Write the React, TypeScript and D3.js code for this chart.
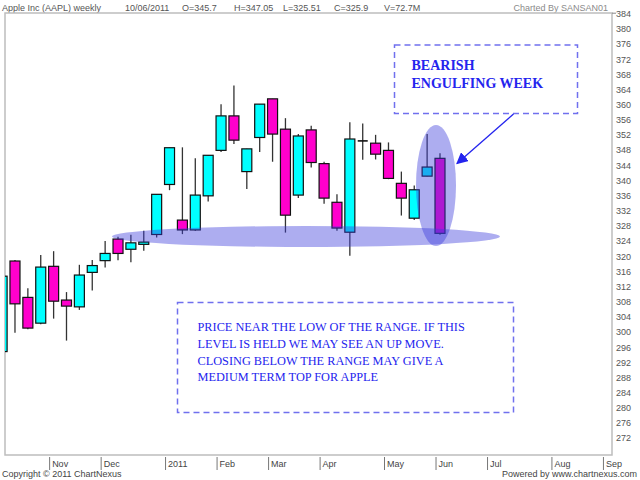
import React from "react";
import * as d3 from "d3";

// weekly bars, Friday dated, 15 Oct 2010 .. 10 Jun 2011
const weeks = [
  "2010-10-15", "2010-10-22", "2010-10-29", "2010-11-05", "2010-11-12", "2010-11-19", "2010-11-26",
  "2010-12-03", "2010-12-10", "2010-12-17", "2010-12-23", "2010-12-31", "2011-01-07", "2011-01-14",
  "2011-01-21", "2011-01-28", "2011-02-04", "2011-02-11", "2011-02-18", "2011-02-25", "2011-03-04",
  "2011-03-11", "2011-03-18", "2011-03-25", "2011-04-01", "2011-04-08", "2011-04-15", "2011-04-21",
  "2011-04-29", "2011-05-06", "2011-05-13", "2011-05-20", "2011-05-27", "2011-06-03", "2011-06-10",
];
const opens = [294.7, 318.6, 309.0, 302.2, 317.2, 308.3, 306.5, 315.6, 318.7, 324.4, 321.7, 323.0, 325.6, 338.8, 329.4, 326.8, 335.8, 347.8, 356.9, 342.2, 351.2, 361.4, 353.4, 336.0, 353.2, 344.3, 334.1, 326.2, 350.3, 349.7, 347.8, 339.1, 329.9, 341.0, 345.7];
const highs = [315.2, 318.9, 311.4, 320.2, 321.2, 310.4, 317.6, 318.9, 323.9, 325.0, 325.5, 326.6, 336.2, 348.5, 348.6, 345.7, 346.5, 360.0, 364.9, 348.2, 360.0, 361.4, 356.3, 352.1, 354.3, 344.8, 336.2, 355.2, 354.9, 351.9, 349.9, 342.2, 338.5, 352.1, 347.05];
const lows = [294.2, 299.7, 300.6, 301.9, 303.4, 297.6, 305.7, 310.8, 316.9, 318.8, 318.3, 321.3, 324.8, 337.3, 325.7, 326.6, 334.3, 347.4, 349.5, 337.6, 347.4, 344.8, 326.1, 335.2, 343.3, 333.7, 326.6, 320.0, 345.3, 345.4, 340.2, 330.6, 329.4, 341.0, 325.51];
const closes = [314.6, 307.3, 300.9, 317.0, 308.0, 306.7, 314.9, 317.4, 320.6, 320.6, 323.4, 323.6, 336.2, 348.5, 326.8, 336.0, 346.5, 356.9, 350.5, 348.2, 360.0, 352.1, 330.7, 351.6, 344.6, 335.2, 327.3, 350.8, 350.3, 346.8, 340.4, 335.2, 337.4, 343.4, 325.9];

// month labels and the bar index of the first week of each month
const monthLabels = ["Nov", "Dec", "2011", "Feb", "Mar", "Apr", "May", "Jun", "Jul", "Aug", "Sep"];
const monthFirstBar = [3, 7, 12, 16, 20, 24, 29, 33, 37, 42, 46];

const priceTicks = d3.range(272, 385, 4);

const headerItems = ["Apple Inc (AAPL) weekly", "10/06/2011", "O=345.7", "H=347.05", "L=325.51", "C=325.9", "V=72.7M"];
const headerX = [2, 125, 182, 234, 283, 334, 384];

const noteTop = ["BEARISH", "ENGULFING WEEK"];
const noteBottom = [
  "PRICE NEAR THE LOW OF THE RANGE. IF THIS",
  "LEVEL IS HELD WE MAY SEE AN UP MOVE.",
  "CLOSING BELOW THE RANGE MAY GIVE A",
  "MEDIUM TERM TOP FOR APPLE",
];

const W = 640, H = 480;
const plot = { left: 5, top: 13, right: 612, bottom: 455 };
const sans = "'Liberation Sans', Arial, sans-serif";
const serif = "'Liberation Serif', 'Times New Roman', serif";
const noteBlue = "#2424ee";
const overlay = "#3c3cdc";

export default function App() {
  const x = d3.scaleLinear().domain([0, weeks.length - 1]).range([2.1, 440]);
  const y = d3.scaleLinear().domain([272, 384]).range([437.6, 13.2]);
  const bodyW = 10;

  const bars = weeks.map((d, i) => ({ d, o: opens[i], h: highs[i], l: lows[i], c: closes[i] }));

  return (
    <svg width={W} height={H} style={{ position: "absolute", left: 0, top: 0, background: "#fff" }}>
      <defs>
        <clipPath id="plotClip">
          <rect x={plot.left} y={plot.top} width={plot.right - plot.left} height={plot.bottom - plot.top} />
        </clipPath>
        <marker id="arrowHead" viewBox="0 0 10 10" refX="9" refY="5" markerWidth="9" markerHeight="9" orient="auto">
          <path d="M0,0 L10,5 L0,10 z" fill={noteBlue} />
        </marker>
      </defs>

      {/* header */}
      <g fontFamily={sans} fontSize={9} fill="#555">
        {headerItems.map((t, i) => (
          <text key={t} x={headerX[i]} y={11}>{t}</text>
        ))}
        <text x={608} y={11} textAnchor="end" fill="#8a8a8a">Charted By SANSAN01</text>
      </g>

      {/* frame */}
      <rect x={plot.left} y={plot.top} width={plot.right - plot.left} height={plot.bottom - plot.top}
        fill="none" stroke="#bdbdbd" strokeWidth={1.5} />

      {/* price axis */}
      <g fontFamily={sans} fontSize={9} fill="#555">
        {priceTicks.map(v => (
          <text key={v} x={616} y={y(v) + 1.5} dominantBaseline="middle">{v}</text>
        ))}
        <line x1={plot.right} x2={616} y1={y(384)} y2={y(384)} stroke="#888" />
      </g>

      {/* date axis */}
      <g fontFamily={sans} fontSize={9} fill="#444">
        {monthLabels.map((m, i) => {
          const tx = x(monthFirstBar[i]) + 8.9;
          return (
            <g key={m}>
              <line x1={tx} x2={tx} y1={457} y2={470} stroke="#777" />
              <text x={tx + 2.5} y={467}>{m}</text>
            </g>
          );
        })}
      </g>

      {/* candles */}
      <g clipPath="url(#plotClip)">
        {bars.map((b, i) => {
          const cx = x(i);
          const top = y(Math.max(b.o, b.c));
          const bot = y(Math.min(b.o, b.c));
          const up = b.c >= b.o;
          return (
            <g key={b.d}>
              <line x1={cx} x2={cx} y1={y(b.h)} y2={y(b.l)} stroke="#333" strokeWidth={1.3} />
              {bot - top < 1 ? (
                <line x1={cx - bodyW / 2} x2={cx + bodyW / 2} y1={top} y2={top} stroke="#111" strokeWidth={1.6} />
              ) : (
                <rect x={cx - bodyW / 2} y={top} width={bodyW} height={bot - top}
                  fill={up ? "#00ffff" : "#ff00cc"} stroke="#111" strokeWidth={1.2} />
              )}
            </g>
          );
        })}
      </g>

      {/* highlight ellipses */}
      <ellipse cx={306} cy={236.5} rx={194} ry={10.5} fill={overlay} fillOpacity={0.42} />
      <ellipse cx={436} cy={185.5} rx={20} ry={60.5} fill={overlay} fillOpacity={0.42} />

      {/* bearish note */}
      <rect x={394.5} y={45} width={183} height={68.5} fill="none" stroke="#7070ee" strokeWidth={1.5} strokeDasharray="6,4" />
      <g fontFamily={serif} fontWeight="bold" fontSize={14} fill={noteBlue}>
        {noteTop.map((t, i) => (
          <text key={t} x={411.5} y={70 + i * 18.3}>{t}</text>
        ))}
      </g>
      <line x1={513.5} y1={114} x2={457} y2={163.5} stroke={noteBlue} strokeWidth={1.3} markerEnd="url(#arrowHead)" />

      {/* range note */}
      <rect x={177.5} y={302.5} width={336} height={110} fill="none" stroke="#7070ee" strokeWidth={1.5} strokeDasharray="6,4" />
      <g fontFamily={serif} fontSize={12.3} fill={noteBlue}>
        {noteBottom.map((t, i) => (
          <text key={t} x={197.5} y={331 + i * 16.8}>{t}</text>
        ))}
      </g>

      {/* footer */}
      <g fontFamily={sans} fontSize={9} fill="#444">
        <text x={2} y={477}>Copyright © 2011 ChartNexus</text>
        <text x={637} y={477} textAnchor="end">Powered by www.chartnexus.com</text>
      </g>
    </svg>
  );
}
